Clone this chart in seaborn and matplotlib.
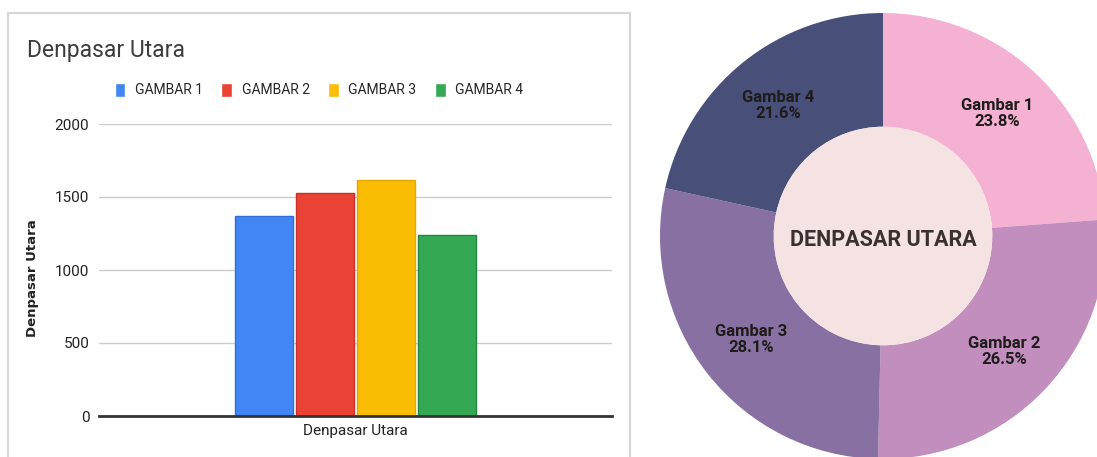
import matplotlib
matplotlib.use("Agg")
import matplotlib.pyplot as plt
from matplotlib.patches import Rectangle, Circle
import numpy as np
import pandas as pd
import seaborn as sns

# data
kecamatan = "Denpasar Utara"
legend_labels = ["GAMBAR 1", "GAMBAR 2", "GAMBAR 3", "GAMBAR 4"]
pie_labels = ["Gambar 1", "Gambar 2", "Gambar 3", "Gambar 4"]
values = [1370, 1527, 1616, 1240]
y_ticks = [0, 500, 1000, 1500, 2000]

bar_colors = ["#4285F4", "#EA4335", "#FBBC04", "#34A853"]
bar_edges = ["#2f6fd8", "#c9302a", "#e6a900", "#23853f"]
pie_colors = ["#F4B1D2", "#C28EBD", "#8870A3", "#48507A"]

sns.set_theme(style="white")
plt.rcParams["font.family"] = ["Roboto", "DejaVu Sans"]

W, H = 1097, 457
fig = plt.figure(figsize=(W / 100, H / 100), dpi=100)

# ---- left: bar chart ----
ax = fig.add_axes([99 / W, 1 - 416 / H, 513 / W, 292 / H])
df = pd.DataFrame({"kecamatan": [kecamatan] * len(values),
                   "gambar": legend_labels,
                   "jumlah": values})
sns.barplot(data=df, x="kecamatan", y="jumlah", hue="gambar",
            palette=bar_colors, saturation=1, width=0.474, gap=0.05,
            linewidth=1, ax=ax)
for patch, ec in zip(ax.patches, bar_edges):
    patch.set_edgecolor(ec)

ax.set_ylim(0, 2000)
ax.set_xlim(-0.5, 0.5)
ax.set_yticks(y_ticks)
ax.yaxis.grid(True, color="#cccccc", linewidth=1)
ax.set_axisbelow(True)
for s in ["top", "right", "left"]:
    ax.spines[s].set_visible(False)
ax.spines["bottom"].set_color("#333333")
ax.spines["bottom"].set_linewidth(2)
ax.tick_params(axis="both", length=0, labelsize=11, colors="#222222")
ax.tick_params(axis="y", pad=7)
ax.tick_params(axis="x", pad=6)
ax.set_xlabel("")
ax.set_ylabel("Denpasar Utara", fontsize=9.5, fontweight="bold", color="#222222",
              family=["DejaVu Sans"])
ax.yaxis.set_label_coords(-0.117, 0.473)

handles, labels = ax.get_legend_handles_labels()
ax.legend(handles, labels, loc="center", bbox_to_anchor=(319 / W, 1 - 90 / H),
          bbox_transform=fig.transFigure, ncol=4, frameon=False,
          handlelength=0.75, handleheight=1.2, handletextpad=0.7,
          columnspacing=1.35, prop={"size": 10})

fig.text(27 / W, 1 - 51 / H, "Denpasar Utara", ha="left", va="center",
         fontsize=16.5, color="#3c3c3c")

fig.patches.append(Rectangle((8 / W, -0.05), (630 - 8) / W, (H - 13) / H + 0.05,
                             transform=fig.transFigure, fill=False,
                             edgecolor="#d6d6d6", linewidth=1.5))

# ---- right: donut ----
pax = fig.add_axes([660 / W, 1 - 459 / H, 446 / W, 446 / H])
wedges, _ = pax.pie(values, colors=pie_colors, startangle=90, counterclock=False,
                    radius=1, wedgeprops=dict(width=0.51, linewidth=0))
pax.add_patch(Circle((0, 0), 0.49, facecolor="#F5E2E2", edgecolor="none"))
total = sum(values)
for w, name, v in zip(wedges, pie_labels, values):
    ang = np.deg2rad((w.theta1 + w.theta2) / 2)
    pax.text(0.75 * np.cos(ang), 0.75 * np.sin(ang),
             f"{name}\n{100 * v / total:.1f}%", ha="center", va="center",
             fontsize=12, fontweight="bold", color="#1f1b1b", linespacing=1.1)
pax.text(0, -0.02, "DENPASAR UTARA", ha="center", va="center",
         fontsize=15.5, fontweight="bold", color="#3a3030")
pax.set_xlim(-1, 1)
pax.set_ylim(-1, 1)
pax.set_aspect("equal")
pax.axis("off")

fig.savefig("out.png", dpi=100)
